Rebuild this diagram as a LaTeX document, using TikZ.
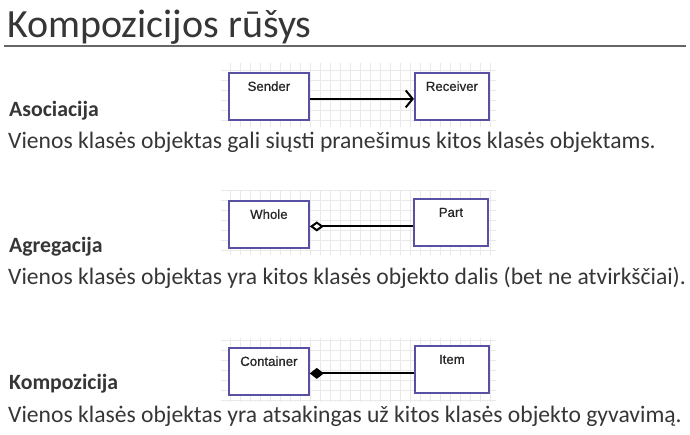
\documentclass[tikz,border=0pt]{standalone}
\usepackage{fontspec}
\setmainfont{Carlito}
\newfontfamily\umlfont[FakeBold=0.7]{Liberation Sans}
\usetikzlibrary{arrows.meta}

\definecolor{txtgray}{HTML}{363636}
\definecolor{umlblue}{HTML}{5750A3}
\definecolor{gridgray}{HTML}{E9E9E9}

\tikzset{
  umlbox/.style={draw=umlblue, line width=1.8pt, fill=white, anchor=north west,
    minimum width=#1, inner xsep=0pt, inner ysep=0pt, text height=18pt, text depth=29pt,
    font=\umlfont\fontsize{13.2}{13}\selectfont, text=black!85},
  umlbox/.default=80pt,
  heading/.style={anchor=base west, inner sep=0pt, text=txtgray, font=\bfseries\fontsize{21.8}{24}\selectfont},
  body/.style={anchor=base west, inner sep=0pt, text=txtgray, font=\fontsize{23.6}{26}\selectfont},
  link/.style={line width=2pt, black}
}

\begin{document}
\begin{tikzpicture}[x=1pt, y=-1pt]
\useasboundingbox (0,0) rectangle (690,435);

% title
\node[anchor=base west, inner sep=0pt, text=txtgray, font=\fontsize{40}{44}\selectfont] (title) at (7,38) {Kompozicijos rūšys};
\draw[gray!80!black, line width=1.2pt] (4,46) -- (686,46);

% grids behind the diagrams
\draw[gridgray, line width=0.5pt, step=10pt] (221,63) grid (496,127);
\draw[gridgray, line width=0.5pt, step=10pt] (221,190) grid (496,255);
\draw[gridgray, line width=0.5pt, step=10pt] (221,338) grid (496,402);

% asociacija
\node[umlbox] (sender) at (228,72) {Sender};
\node[umlbox=74pt] (receiver) at (414,72) {Receiver};
\draw[link, -{Straight Barb[length=7pt, width=17pt]}] ([yshift=-2.5pt]sender.east) -- ([yshift=-2.5pt]sender.east -| receiver.west);
\node[heading] (asoc) at (9,117) {Asociacija};
\node[body] (asoctxt) at (8,149) {Vienos klasės objektas gali siųsti pranešimus kitos klasės objektams.};

% agregacija
\node[umlbox] (whole) at (228,200) {Whole};
\node[umlbox=74pt] (part) at (413,198) {Part};
\draw[link, {Diamond[open, length=14pt, width=10pt]}-] ([yshift=-2pt]whole.east) -- ([yshift=-2pt]whole.east -| part.west);
\node[heading] (agr) at (9,253) {Agregacija};
\node[body] (agrtxt) at (8,285) {Vienos klasės objektas yra kitos klasės objekto dalis (bet ne atvirkščiai).};

% kompozicija
\node[umlbox] (container) at (228,347) {Container};
\node[umlbox=74pt] (item) at (414,345) {Item};
\draw[link, {Diamond[length=14pt, width=11pt]}-] ([yshift=-2pt]container.east) -- ([yshift=-2pt]container.east -| item.west);
\node[heading] (komp) at (9,389) {Kompozicija};
\node[body] (komptxt) at (8,422) {Vienos klasės objektas yra atsakingas už kitos klasės objekto gyvavimą.};
\end{tikzpicture}
\end{document}
